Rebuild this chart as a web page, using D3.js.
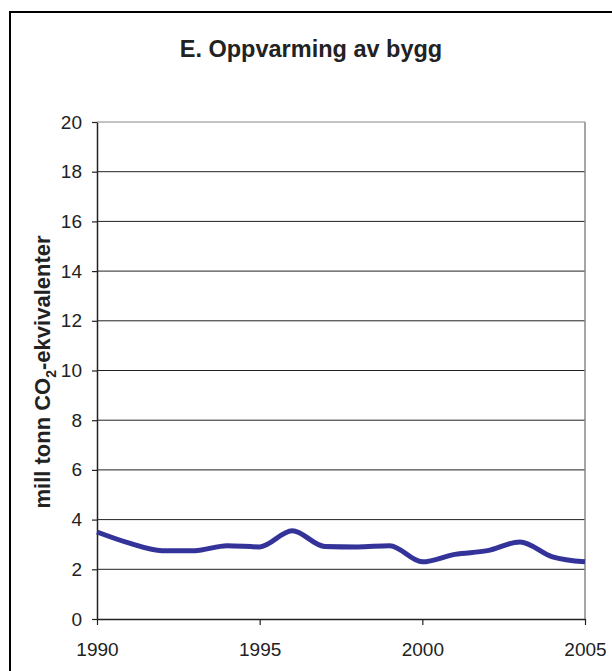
<!DOCTYPE html>
<html>
<head>
<meta charset="utf-8">
<script src="https://cdn.jsdelivr.net/npm/d3@7"></script>
<style>
  body { margin: 0; background: white; }
  text { font-family: "Liberation Sans", Arial, sans-serif; }
</style>
</head>
<body>
<script>
// Data
const years = [1990, 1991, 1992, 1993, 1994, 1995, 1996, 1997, 1998, 1999, 2000, 2001, 2002, 2003, 2004, 2005]
const values = [3.5, 3.05, 2.75, 2.75, 2.95, 2.9, 3.55, 2.92, 2.9, 2.95, 2.3, 2.6, 2.75, 3.1, 2.5, 2.3]
const yTicks = [0, 2, 4, 6, 8, 10, 12, 14, 16, 18, 20]
const xTicks = [1990, 1995, 2000, 2005]
const title = 'E. Oppvarming av bygg'

const width = 612
const height = 671
const margin = {left: 97, right: 27, top: 122, bottom: 52}

const svg = d3.select('body').append('svg')
  .attr('width', width)
  .attr('height', height)

// Outer frame (runs off the right and bottom edge)
svg.append('rect')
  .attr('x', 10).attr('y', 12)
  .attr('width', 640).attr('height', 700)
  .style('fill', 'none')
  .style('stroke', 'black')
  .style('stroke-width', 2)

const xScale = d3.scaleLinear().domain([1990, 2005]).range([margin.left, width - margin.right])
const yScale = d3.scaleLinear().domain([0, 20]).range([height - margin.bottom, margin.top])

// Title
svg.append('text')
  .attr('x', 311).attr('y', 57)
  .style('text-anchor', 'middle')
  .style('font-size', '23.5px')
  .style('font-weight', 'bold')
  .style('fill', '#222')
  .text(title)

// Y axis label
const yLab = svg.append('text')
  .attr('transform', `translate(50,372) rotate(270)`)
  .style('text-anchor', 'middle')
  .style('font-size', '22px')
  .style('font-weight', 'bold')
  .style('fill', '#222')
yLab.append('tspan').text('mill tonn CO')
yLab.append('tspan').attr('dy', 6).style('font-size', '14px').text('2')
yLab.append('tspan').attr('dy', -6).text('-ekvivalenter')

// Gridlines
svg.append('g')
  .selectAll('line')
  .data(yTicks.filter(d => d > 0))
  .join('line')
  .attr('x1', xScale(1990)).attr('x2', xScale(2005))
  .attr('y1', d => yScale(d)).attr('y2', d => yScale(d))
  .style('stroke', d => d === 20 ? '#888' : '#222')
  .style('stroke-width', 1)

// Right border of plot area
svg.append('line')
  .attr('x1', xScale(2005)).attr('x2', xScale(2005))
  .attr('y1', yScale(20)).attr('y2', yScale(0))
  .style('stroke', '#888')
  .style('stroke-width', 1.5)

// Axes
const lAxis = svg.append('g')
  .attr('transform', `translate(${margin.left},0)`)
  .call(d3.axisLeft(yScale).tickValues(yTicks).tickSize(5).tickSizeOuter(0).tickPadding(10))
const bAxis = svg.append('g')
  .attr('transform', `translate(0,${yScale(0)})`)
  .call(d3.axisBottom(xScale).tickValues(xTicks).tickFormat(d3.format('d')).tickSize(6).tickSizeOuter(0).tickPadding(18))

;[lAxis, bAxis].forEach(ax => {
  ax.select('.domain').style('stroke', '#222').style('stroke-width', 1.5)
  ax.selectAll('.tick line').style('stroke', '#222').style('stroke-width', 1.2)
  ax.selectAll('.tick text')
    .style('font-size', '19px')
    .style('fill', '#222')
    .style('font-family', '"Liberation Sans", Arial, sans-serif')
})

// Data line
const linePath = d3.line()
  .curve(d3.curveMonotoneX)
  .x(d => xScale(d.y))
  .y(d => yScale(d.v))

const vData = years.map((y, i) => ({y: y, v: values[i]}))
svg.append('path')
  .attr('d', linePath(vData))
  .style('fill', 'none')
  .style('stroke', '#333399')
  .style('stroke-width', 5)
  .style('stroke-linejoin', 'round')
</script>
</body>
</html>
